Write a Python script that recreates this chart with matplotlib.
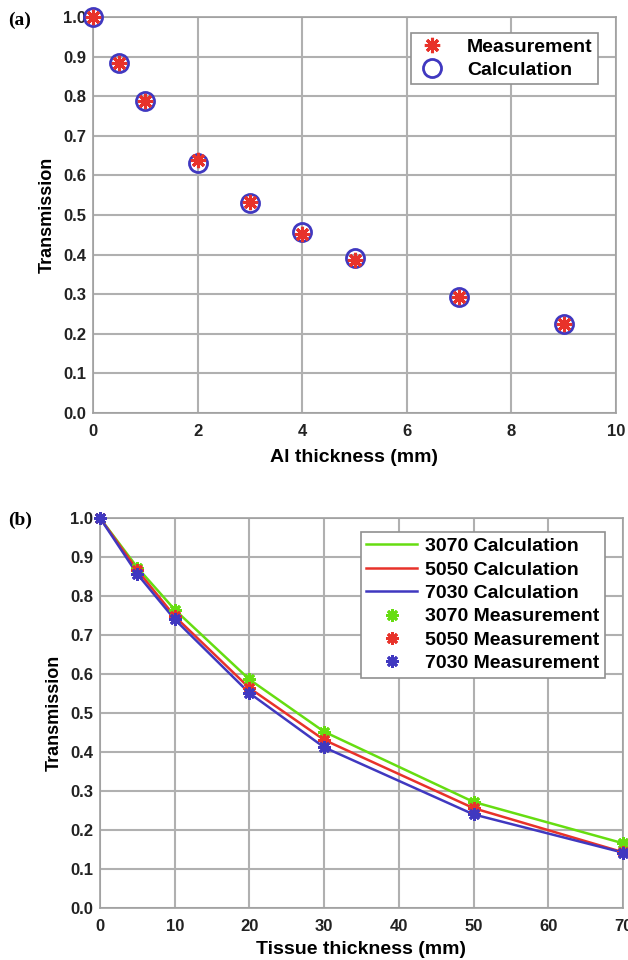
import numpy as np
import matplotlib.pyplot as plt

# panel (a): Al thickness
al_thick = [0, 0.5, 1, 2, 3, 4, 5, 7, 9]
al_calc = [1.0, 0.884, 0.789, 0.631, 0.530, 0.457, 0.392, 0.292, 0.225]
al_meas = [1.0, 0.884, 0.789, 0.638, 0.533, 0.451, 0.387, 0.292, 0.225]

# panel (b): tissue thickness
tis_thick = [0, 5, 10, 20, 30, 50, 70]
calc_3070 = [1.0, 0.873, 0.765, 0.586, 0.452, 0.272, 0.166]
calc_5050 = [1.0, 0.866, 0.748, 0.564, 0.431, 0.256, 0.143]
calc_7030 = [1.0, 0.856, 0.740, 0.551, 0.412, 0.240, 0.142]

GREEN = '#66dd11'
RED = '#e8322a'
BLUE = '#4038c0'

plt.rcParams['font.family'] = ['Liberation Sans', 'DejaVu Sans']
plt.rcParams['font.weight'] = 'bold'

fig = plt.figure(figsize=(6.28, 9.6), dpi=100)
W, H = 628, 960

def make_axes(l, r, t, b):
    return fig.add_axes([l / W, 1 - b / H, (r - l) / W, (b - t) / H])

def style(ax):
    ax.grid(True, color='#b0b0b0', linewidth=1.5)
    ax.set_axisbelow(True)
    for s in ax.spines.values():
        s.set_color('#a0a0a0')
        s.set_linewidth(1.2)
    ax.tick_params(length=0, labelsize=12, pad=5)
    ax.tick_params(axis='x', pad=8)
    for lab in ax.get_xticklabels() + ax.get_yticklabels():
        lab.set_fontweight('bold')
        lab.set_color('#222222')

star = (8, 2, 0)

# ---- (a)
ax1 = make_axes(93, 616, 17, 413)
ax1.plot(al_thick, al_meas, linestyle='none', marker=star, color=RED,
         markersize=11, markeredgewidth=2.2, label='Measurement', zorder=4, clip_on=False)
ax1.plot(al_thick, al_calc, linestyle='none', marker='o', markerfacecolor='none',
         markeredgecolor=BLUE, markersize=13, markeredgewidth=2, label='Calculation',
         zorder=3, clip_on=False)
ax1.set_xlim(0, 10)
ax1.set_ylim(0, 1)
ax1.set_xticks(np.arange(0, 11, 2))
ax1.set_yticks(np.arange(0, 1.01, 0.1))
ax1.yaxis.set_major_formatter(plt.FormatStrFormatter('%.1f'))
ax1.set_xlabel('Al thickness (mm)', fontsize=14, fontweight='bold', labelpad=7)
ax1.set_ylabel('Transmission', fontsize=13, fontweight='bold', labelpad=5)
style(ax1)
leg1 = ax1.legend(loc='upper right', bbox_to_anchor=(0.985, 0.985), fontsize=14,
                  frameon=True, fancybox=False, edgecolor='#909090', framealpha=1,
                  handlelength=1.6, handletextpad=1.0, borderpad=0.3, labelspacing=0.25)
leg1.get_frame().set_linewidth(1.2)
fig.text(8 / W, 1 - 20 / H, '(a)', family=['Liberation Serif', 'DejaVu Serif'],
         fontsize=14, fontweight='bold', va='center')

# ---- (b)
ax2 = make_axes(100, 623, 518, 908)
for ys, c, lab in [(calc_3070, GREEN, '3070'), (calc_5050, RED, '5050'), (calc_7030, BLUE, '7030')]:
    ax2.plot(tis_thick, ys, color=c, linewidth=1.8, label=lab + ' Calculation', zorder=3)
for ys, c, lab in [(calc_3070, GREEN, '3070'), (calc_5050, RED, '5050'), (calc_7030, BLUE, '7030')]:
    ax2.plot(tis_thick, ys, linestyle='none', marker=star, color=c, markersize=9,
             markeredgewidth=2, label=lab + ' Measurement', zorder=4, clip_on=False)
ax2.set_xlim(0, 70)
ax2.set_ylim(0, 1)
ax2.set_xticks(np.arange(0, 71, 10))
ax2.set_yticks(np.arange(0, 1.01, 0.1))
ax2.yaxis.set_major_formatter(plt.FormatStrFormatter('%.1f'))
ax2.set_xlabel('Tissue thickness (mm)', fontsize=14, fontweight='bold', labelpad=5)
ax2.set_ylabel('Transmission', fontsize=13, fontweight='bold', labelpad=5)
style(ax2)
leg2 = ax2.legend(loc='upper right', bbox_to_anchor=(0.984, 0.99), fontsize=14,
                  frameon=True, fancybox=False, edgecolor='#909090', framealpha=1,
                  handlelength=2.6, handletextpad=0.4, borderpad=0.3, labelspacing=0.3)
leg2.get_frame().set_linewidth(1.2)
fig.text(8 / W, 1 - 520 / H, '(b)', family=['Liberation Serif', 'DejaVu Serif'],
         fontsize=14, fontweight='bold', va='center')

fig.savefig('out.png', dpi=100, facecolor='white')
